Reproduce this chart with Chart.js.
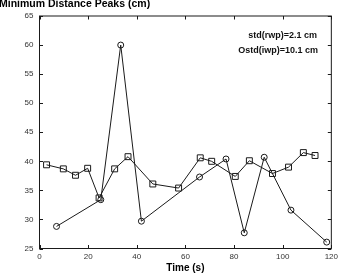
<!DOCTYPE html>
<html><head><meta charset="utf-8">
<script src="https://cdn.jsdelivr.net/npm/chart.js@4/dist/chart.umd.min.js"></script>
<style>html,body{margin:0;padding:0;background:#fff}#wrap{width:341px;height:277px;position:relative}canvas{display:block}</style>
</head><body><div id="wrap"><canvas id="c" width="341" height="277" style="width:341px;height:277px"></canvas></div>
<script>
const chartTitle = "Minimum Distance Peaks (cm)";
const xAxisTitle = "Time (s)";
const annotationLines = ["std(rwp)=2.1 cm", "Ostd(iwp)=10.1 cm"];
const xTicks = [0, 20, 40, 60, 80, 100, 120];
const yTicks = [25, 30, 35, 40, 45, 50, 55, 60, 65];
const squareTimes = [2.9, 9.8, 14.8, 19.8, 24.5, 30.9, 36.4, 46.6, 57.2, 66.1, 70.8, 80.5, 86.3, 95.8, 102.4, 108.5, 113.3];
const squareValues = [39.4, 38.7, 37.6, 38.8, 33.7, 38.7, 40.8, 36.1, 35.4, 40.6, 40.0, 37.4, 40.1, 37.9, 39.0, 41.5, 41.0];
const circleTimes = [7.0, 25.2, 33.4, 41.9, 65.8, 76.7, 84.2, 92.4, 103.4, 118.1];
const circleValues = [28.8, 33.4, 60.0, 29.7, 37.3, 40.4, 27.7, 40.7, 31.6, 26.1];

const FONT = '"Liberation Sans", Arial, Helvetica, sans-serif';
const INK = '#1a1a1a';

const toPoints = (xs, ys) => xs.map((x, i) => ({x: x, y: ys[i]}));

const framePlugin = {
  id: 'frame',
  afterDraw(chart) {
    const ctx = chart.ctx;
    const a = chart.chartArea;
    const xs = chart.scales.x, ys = chart.scales.y;
    ctx.save();
    ctx.strokeStyle = INK;
    ctx.lineWidth = 1;
    ctx.strokeRect(a.left, a.top, a.right - a.left, a.bottom - a.top);
    const tl = 3.5;
    ctx.beginPath();
    xTicks.forEach(v => {
      const p = Math.round(xs.getPixelForValue(v)) + 0.5;
      ctx.moveTo(p, a.bottom); ctx.lineTo(p, a.bottom - tl);
      ctx.moveTo(p, a.top); ctx.lineTo(p, a.top + tl);
    });
    yTicks.forEach(v => {
      const p = Math.round(ys.getPixelForValue(v)) + 0.5;
      ctx.moveTo(a.left, p); ctx.lineTo(a.left + tl, p);
      ctx.moveTo(a.right, p); ctx.lineTo(a.right - tl, p);
    });
    ctx.stroke();
    // chart title
    ctx.fillStyle = '#000';
    ctx.font = 'bold 10.5px ' + FONT;
    ctx.textAlign = 'left';
    ctx.textBaseline = 'alphabetic';
    ctx.fillText(chartTitle, -1, 7);
    // annotation text
    ctx.font = 'bold 9px ' + FONT;
    ctx.textAlign = 'right';
    ctx.fillStyle = '#111';
    ctx.fillText(annotationLines[0], 317, 38);
    ctx.fillText(annotationLines[1], 318, 52.5);
    ctx.restore();
  }
};

new Chart(document.getElementById('c'), {
  type: 'scatter',
  data: {
    datasets: [
      {
        label: 'rwp',
        data: toPoints(squareTimes, squareValues),
        showLine: true,
        borderColor: INK,
        borderWidth: 1,
        pointStyle: 'rect',
        pointRadius: 4.2,
        pointBorderColor: INK,
        pointBorderWidth: 1,
        pointBackgroundColor: 'rgba(0,0,0,0)'
      },
      {
        label: 'iwp',
        data: toPoints(circleTimes, circleValues),
        showLine: true,
        borderColor: INK,
        borderWidth: 1,
        pointStyle: 'circle',
        pointRadius: 3,
        pointBorderColor: INK,
        pointBorderWidth: 1,
        pointBackgroundColor: 'rgba(0,0,0,0)'
      }
    ]
  },
  options: {
    responsive: false,
    animation: false,
    devicePixelRatio: 1,
    layout: {padding: {top: 16, right: 8, left: 0, bottom: 0}},
    plugins: {legend: {display: false}, tooltip: {enabled: false}, title: {display: false}},
    scales: {
      x: {
        type: 'linear', min: 0, max: 120,
        afterBuildTicks: s => { s.ticks = xTicks.map(v => ({value: v})); },
        afterFit: s => { s.height = 28.5; },
        grid: {display: false, drawTicks: false},
        border: {display: false},
        ticks: {padding: 3, color: '#333', font: {family: FONT, size: 8}, maxRotation: 0, autoSkip: false},
        title: {display: true, text: xAxisTitle, color: '#000', font: {family: FONT, size: 10, weight: 'bold'}, padding: {top: 0, bottom: 3}}
      },
      y: {
        type: 'linear', min: 25, max: 65,
        afterBuildTicks: s => { s.ticks = yTicks.map(v => ({value: v})); },
        afterFit: s => { s.width = 39.5; },
        grid: {display: false, drawTicks: false},
        border: {display: false},
        ticks: {padding: 6, color: '#333', font: {family: FONT, size: 8}, autoSkip: false}
      }
    }
  },
  plugins: [framePlugin]
});
</script>
</body></html>
